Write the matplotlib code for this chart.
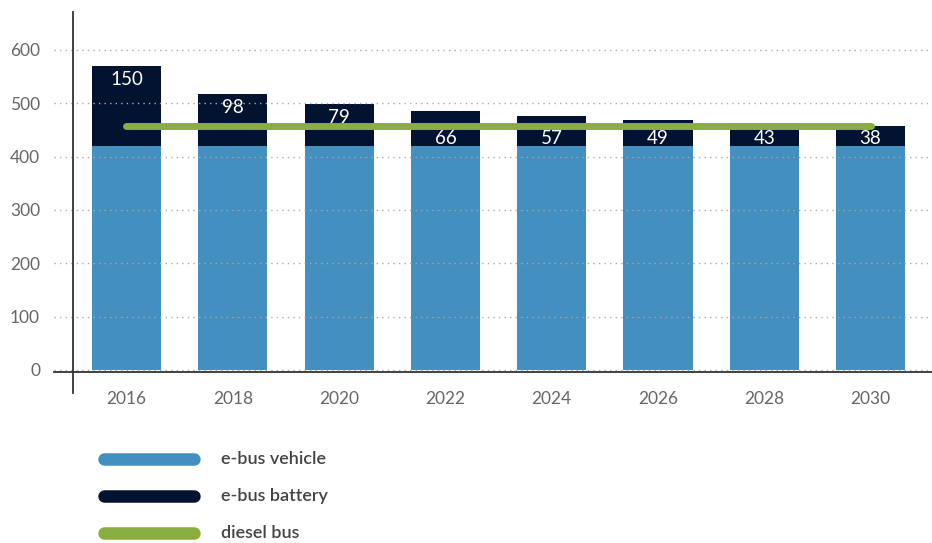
import matplotlib.pyplot as plt
import numpy as np

years = ["2016", "2018", "2020", "2022", "2024", "2026", "2028", "2030"]
vehicle = [420, 420, 420, 420, 420, 420, 420, 420]
battery = [150, 98, 79, 66, 57, 49, 43, 38]
diesel = [458, 458, 458, 458, 458, 458, 458, 458]

c_vehicle = "#428fc0"
c_battery = "#02132f"
c_diesel = "#8aad3f"

plt.rcParams["font.family"] = ["Lato", "DejaVu Sans"]

W, H = 932, 543
fig = plt.figure(figsize=(W / 100, H / 100), dpi=100)
ax = fig.add_axes([54 / W, (H - 372) / H, (932 - 54) / W, 360 / H])

x = np.arange(len(years))
ax.bar(x, vehicle, width=0.65, color=c_vehicle, zorder=1)
ax.bar(x, battery, width=0.65, bottom=vehicle, color=c_battery, zorder=1)
ax.plot(x, diesel, color=c_diesel, lw=5, solid_capstyle="round", zorder=3)

for xi, v, b, d in zip(x, vehicle, battery, diesel):
    top = v + b
    y = top - 26 if top - 26 > d + 10 else v + 14
    ax.text(xi, y, str(b), color="white", ha="center", va="center", fontsize=13.5, zorder=4)

ax.set_xlim(-0.682, 7.578)
ax.set_ylim(-3.75, 671)
ax.set_yticks(range(0, 601, 100))
ax.set_xticks(x)
ax.set_xticklabels(years)
ax.grid(axis="y", linestyle=(0, (1, 3)), color="#aaaaaa", lw=1, zorder=2)
ax.set_axisbelow(False)
for s in ["top", "right", "left"]:
    ax.spines[s].set_visible(False)
ax.spines["bottom"].set_color("#333333")
ax.spines["bottom"].set_linewidth(1.3)
ax.spines["bottom"].set_zorder(5)
ax.axvline(-0.503, ymin=-0.058, ymax=1.0, color="#333333", lw=1.3, clip_on=False, zorder=5)
ax.tick_params(length=0, labelsize=12.5, labelcolor="#666666")
ax.tick_params(axis="y", pad=10)
ax.tick_params(axis="x", pad=14)

# legend drawn below the plot
leg = [("e-bus vehicle", c_vehicle), ("e-bus battery", c_battery), ("diesel bus", c_diesel)]
for i, (name, col) in enumerate(leg):
    yy = 1 - (459 + 37 * i) / H
    fig.add_artist(plt.Line2D([104 / W, 194 / W], [yy, yy], color=col, lw=9,
                              solid_capstyle="round"))
    fig.text(221 / W, yy, name, color="#444444", fontsize=13,
             fontweight="semibold", va="center")

fig.savefig("out.png", dpi=100)
